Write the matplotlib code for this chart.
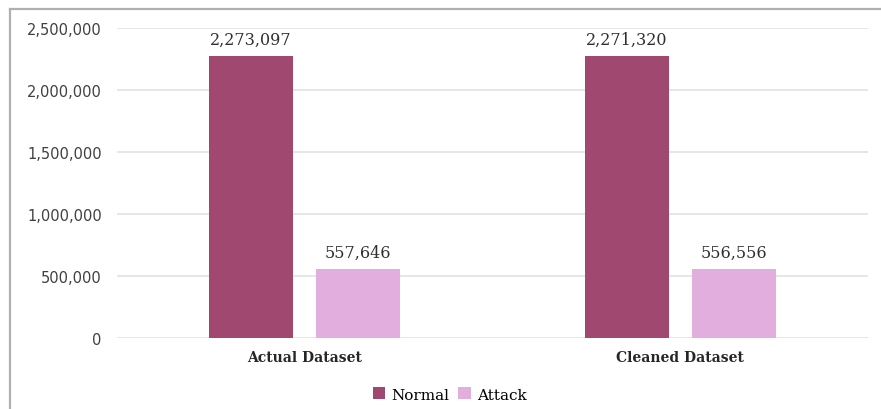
import numpy as np
import matplotlib.pyplot as plt
from matplotlib.lines import Line2D

categories = ['Actual Dataset', 'Cleaned Dataset']
normal = [2273097, 2271320]
attack = [557646, 556556]
y_ticks = [0, 500000, 1000000, 1500000, 2000000, 2500000]

c_normal = '#a04870'
c_attack = '#e2aede'

fig = plt.figure(figsize=(8.81, 4.10), dpi=100)
ax = fig.add_axes([0.1328, 0.1732, 0.8525, 0.7558])

x = np.arange(len(categories))
w = 0.224
off = 0.1425
b1 = ax.bar(x - off, normal, w, color=c_normal, label='Normal', zorder=3)
b2 = ax.bar(x + off, attack, w, color=c_attack, label='Attack', zorder=3)

for bars in (b1, b2):
    for rect in bars:
        h = rect.get_height()
        ax.annotate(f'{h:,.0f}', (rect.get_x() + rect.get_width() / 2, h),
                    xytext=(0, 6), textcoords='offset points',
                    ha='center', va='bottom', fontsize=11.5,
                    family='DejaVu Serif', color='#303030')

ax.set_xlim(-0.5, 1.5)
ax.set_ylim(0, 2500000)
ax.set_yticks(y_ticks)
ax.set_yticklabels([f'{v:,}' for v in y_ticks], family='DejaVu Sans',
                   fontsize=10.5, color='#404040')
ax.set_xticks(x)
ax.set_xticklabels(categories, family='DejaVu Serif', fontsize=10,
                   fontweight='bold', color='#262626')
ax.tick_params(axis='both', length=0)
ax.tick_params(axis='y', pad=11)
ax.tick_params(axis='x', pad=9)
ax.grid(axis='y', color='#e4e4e4', linewidth=1.3, zorder=0)
for s in ax.spines.values():
    s.set_visible(False)

ax.legend(loc='upper center', bbox_to_anchor=(0.443, -0.115), ncol=2,
          frameon=False, handlelength=0.8, handleheight=0.8,
          handletextpad=0.4, columnspacing=0.6,
          prop={'family': 'DejaVu Serif', 'size': 11})

# outer frame (top and left edges)
fig.add_artist(Line2D([10 / 881, 1], [1 - 10 / 410, 1 - 10 / 410],
                      transform=fig.transFigure, color='#b0b0b0', lw=1.6))
fig.add_artist(Line2D([10 / 881, 10 / 881], [0, 1 - 10 / 410],
                      transform=fig.transFigure, color='#b0b0b0', lw=1.6))

fig.savefig('out.png', dpi=100)
